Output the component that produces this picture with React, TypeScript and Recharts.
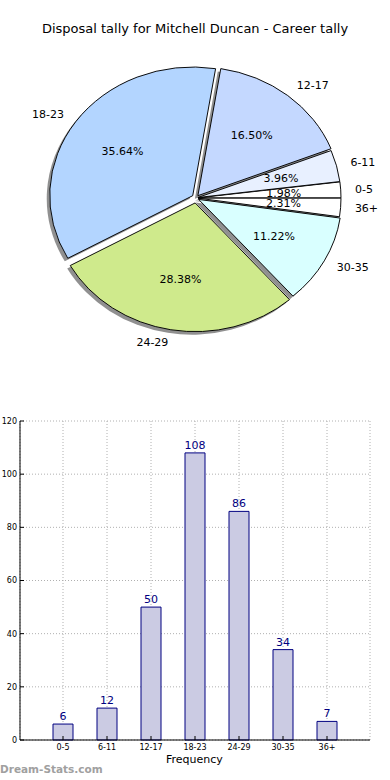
import { Bar, BarChart, CartesianGrid, LabelList, Pie, PieChart, Sector, XAxis, YAxis } from "recharts";

const categories = ["0-5", "6-11", "12-17", "18-23", "24-29", "30-35", "36+"];
const counts = [6, 12, 50, 108, 86, 34, 7];
const yTicks = [0, 20, 40, 60, 80, 100, 120];

// styling for the pie, one entry per category
const pieColors = ["#ffffff", "#e8f0ff", "#c4d8ff", "#b3d5ff", "#cfea8c", "#d9ffff", "#ffffff"];
const explodePx = [2, 2, 3, 4, 5, 3, 2];

const FONT = "'DejaVu Sans', sans-serif";
const CX = 196;
const CY = 198;
const R = 143;
const SQUASH = 0.9;
const RAD = Math.PI / 180;

const data = categories.map((name, i) => ({ name, value: counts[i] }));

function squash(cy: number) {
  return `translate(0 ${cy}) scale(1 ${SQUASH}) translate(0 ${-cy})`;
}

function offset(i: number, mid: number) {
  const e = explodePx[i] ?? 0;
  return { dx: e * Math.cos(mid * RAD), dy: -e * Math.sin(mid * RAD) };
}

function WedgeShape(props: any, index: number) {
  const { cx, cy, innerRadius, outerRadius, startAngle, endAngle, midAngle } = props;
  const i = typeof index === "number" ? index : categories.indexOf(props.name);
  const { dx, dy } = offset(i, midAngle);
  return (
    <g transform={`translate(${dx} ${dy}) ${squash(cy)}`}>
      <Sector
        cx={cx}
        cy={cy}
        innerRadius={innerRadius}
        outerRadius={outerRadius}
        startAngle={startAngle}
        endAngle={endAngle}
        fill={pieColors[i]}
        stroke="#000"
        strokeWidth={1}
      />
    </g>
  );
}

function ShadowShape(props: any, index: number) {
  const { cx, cy, innerRadius, outerRadius, startAngle, endAngle, midAngle } = props;
  const i = typeof index === "number" ? index : categories.indexOf(props.name);
  const { dx, dy } = offset(i, midAngle);
  return (
    <g transform={`translate(${dx - 3} ${dy + 3}) ${squash(cy)}`}>
      <Sector
        cx={cx}
        cy={cy}
        innerRadius={innerRadius}
        outerRadius={outerRadius}
        startAngle={startAngle}
        endAngle={endAngle}
        fill="#909090"
        stroke="none"
      />
    </g>
  );
}

function PieLabel(props: any) {
  const { cx, cy, midAngle, outerRadius, percent, index, name } = props;
  const cos = Math.cos(midAngle * RAD);
  const sin = Math.sin(midAngle * RAD);
  const { dx, dy } = offset(index, midAngle);
  const ox = cx + 1.1 * outerRadius * cos + dx;
  const oy = cy - 1.1 * outerRadius * sin * SQUASH + dy;
  const px = cx + 0.6 * outerRadius * cos + dx;
  const py = cy - 0.6 * outerRadius * sin * SQUASH + dy;
  return (
    <g fontFamily={FONT} fontSize={11} fill="#000">
      <text x={ox} y={oy} textAnchor={cos >= 0 ? "start" : "end"} dominantBaseline="central">
        {name}
      </text>
      <text x={px} y={py} textAnchor="middle" dominantBaseline="central">
        {`${(percent * 100).toFixed(2)}%`}
      </text>
    </g>
  );
}

export default function App() {
  return (
    <div
      style={{
        position: "absolute",
        left: 0,
        top: 0,
        width: 390,
        height: 780,
        background: "#fff",
        fontFamily: FONT,
        overflow: "hidden",
      }}
    >
      <div
        style={{
          position: "absolute",
          top: 21,
          left: 0,
          width: 390,
          textAlign: "center",
          fontSize: 13,
          color: "#000",
        }}
      >
        Disposal tally for Mitchell Duncan - Career tally
      </div>

      <div style={{ position: "absolute", left: 0, top: 0 }}>
        <PieChart width={390} height={380} margin={{ top: 0, right: 0, bottom: 0, left: 0 }}>
          <Pie
            data={data}
            dataKey="value"
            nameKey="name"
            cx={CX}
            cy={CY}
            outerRadius={R}
            startAngle={0}
            endAngle={360}
            shape={ShadowShape}
            isAnimationActive={false}
            label={false}
            labelLine={false}
          />
          <Pie
            data={data}
            dataKey="value"
            nameKey="name"
            cx={CX}
            cy={CY}
            outerRadius={R}
            startAngle={0}
            endAngle={360}
            shape={WedgeShape}
            isAnimationActive={false}
            label={PieLabel}
            labelLine={false}
          />
        </PieChart>
      </div>

      <div style={{ position: "absolute", left: 0, top: 410 }}>
        <BarChart
          width={390}
          height={370}
          data={data}
          margin={{ top: 11, right: 20, left: 0, bottom: 20 }}
          barCategoryGap={0}
        >
          <CartesianGrid stroke="#b0b0b0" strokeDasharray="1 2" />
          <XAxis
            dataKey="name"
            interval={0}
            padding={{ left: 21, right: 21 }}
            height={20}
            axisLine={{ stroke: "#000" }}
            tickLine={{ stroke: "#000" }}
            tickSize={-4}
            tickMargin={8}
            tick={{ fontSize: 8, fill: "#000", fontFamily: FONT }}
          />
          <XAxis
            xAxisId="top"
            orientation="top"
            dataKey="name"
            padding={{ left: 21, right: 21 }}
            height={0}
            axisLine={{ stroke: "#000" }}
            tickLine={false}
            tick={false}
          />
          <YAxis
            domain={[0, 120]}
            ticks={yTicks}
            width={20}
            axisLine={{ stroke: "#000" }}
            tickLine={{ stroke: "#000" }}
            tickSize={-4}
            tickMargin={7}
            tick={{ fontSize: 8, fill: "#000", fontFamily: FONT }}
          />
          <YAxis
            yAxisId="right"
            orientation="right"
            domain={[0, 120]}
            width={0}
            axisLine={{ stroke: "#000" }}
            tickLine={false}
            tick={false}
          />
          <Bar
            dataKey="value"
            barSize={20}
            fill="#cbcbe3"
            stroke="#000080"
            strokeWidth={1}
            isAnimationActive={false}
          >
            <LabelList
              dataKey="value"
              position="top"
              offset={4}
              fill="#000080"
              fontSize={11}
              fontFamily={FONT}
            />
          </Bar>
        </BarChart>
      </div>

      <div
        style={{
          position: "absolute",
          top: 753,
          left: 166,
          fontSize: 11,
          color: "#000",
        }}
      >
        Frequency
      </div>
      <div
        style={{
          position: "absolute",
          top: 763,
          left: 0,
          fontSize: 10.5,
          fontWeight: "bold",
          color: "#a0a0a0",
        }}
      >
        Dream-Stats.com
      </div>
    </div>
  );
}
